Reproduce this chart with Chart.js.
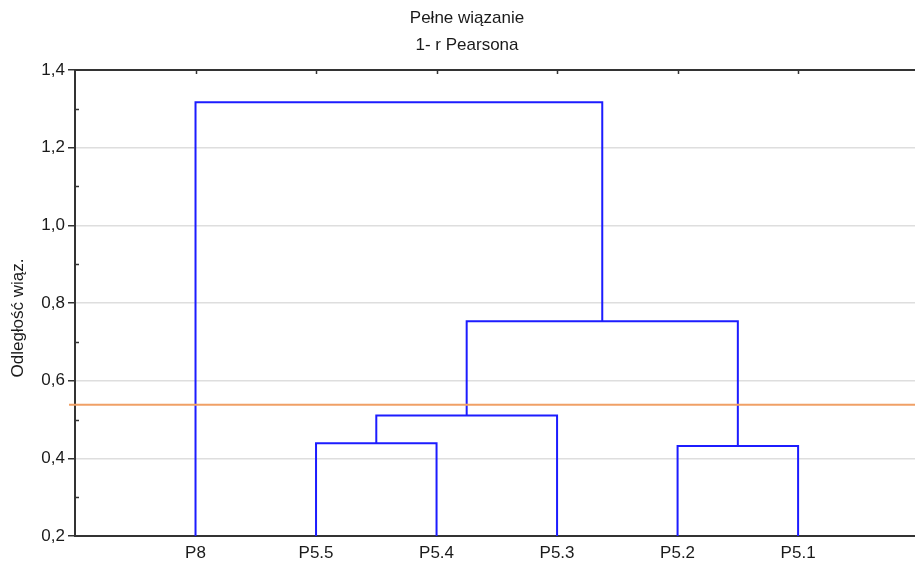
<!DOCTYPE html>
<html>
<head>
<meta charset="utf-8">
<script src="https://cdn.jsdelivr.net/npm/chart.js@4/dist/chart.umd.min.js"></script>
<style>
  html, body { margin: 0; padding: 0; background: #ffffff; }
  canvas { display: block; }
</style>
</head>
<body>
<canvas id="chart" width="915" height="562"></canvas>
<script>
// Leaves of the dendrogram, in drawing order
const leaves = ['P8', 'P5.5', 'P5.4', 'P5.3', 'P5.2', 'P5.1'];

// Agglomeration steps: node ids < leaves.length are leaves, each step creates node leaves.length + k
const mergeLeft   = [1, 4, 6, 8, 0];
const mergeRight  = [2, 5, 3, 7, 9];
const mergeHeight = [0.439, 0.432, 0.510, 0.753, 1.317];

// Cut level of the tree
const cutHeight = 0.538;

// Axis values
const yMajorTicks = [0.2, 0.4, 0.6, 0.8, 1.0, 1.2, 1.4];
const yMinorTicks = [0.3, 0.5, 0.7, 0.9, 1.1, 1.3];

const titleLines = ['Pełne wiązanie', '1- r Pearsona'];
const yAxisTitle = 'Odległość wiąz.';

const Y_MIN = 0.2, Y_MAX = 1.4, X_MAX = 6.97;
const FONT = '"Liberation Sans", Arial, sans-serif';
const FONT_SIZE = 17;
const TEXT_COLOR = '#1a1a1a';
const LINK_COLOR = 'rgb(28, 28, 255)';
const AXIS_COLOR = '#333333';

// Build the U-shaped links of the tree from the merge table
const nodeX = leaves.map((_, i) => i + 1);
const nodeH = leaves.map(() => Y_MIN);
const linkSets = mergeHeight.map((h, k) => {
  const a = mergeLeft[k], b = mergeRight[k];
  const pts = [
    { x: nodeX[a], y: nodeH[a] },
    { x: nodeX[a], y: h },
    { x: nodeX[b], y: h },
    { x: nodeX[b], y: nodeH[b] }
  ];
  nodeX.push((nodeX[a] + nodeX[b]) / 2);
  nodeH.push(h);
  return {
    data: pts,
    showLine: true,
    borderColor: LINK_COLOR,
    borderWidth: 2,
    pointRadius: 0,
    pointHoverRadius: 0,
    fill: false,
    tension: 0,
    borderJoinStyle: 'miter'
  };
});

const decorations = {
  id: 'decorations',
  beforeDatasetsDraw(chart) {
    const { ctx, chartArea, scales } = chart;
    ctx.save();
    ctx.strokeStyle = AXIS_COLOR;
    ctx.lineWidth = 1.5;
    // minor ticks pointing into the plot on the left axis
    yMinorTicks.forEach(v => {
      const y = Math.round(scales.y.getPixelForValue(v)) + 0.5;
      ctx.beginPath();
      ctx.moveTo(chartArea.left, y);
      ctx.lineTo(chartArea.left + 4, y);
      ctx.stroke();
    });
    // ticks hanging from the top frame at each leaf
    leaves.forEach((_, i) => {
      const x = Math.round(scales.x.getPixelForValue(i + 1)) + 0.5;
      ctx.beginPath();
      ctx.moveTo(x, chartArea.top);
      ctx.lineTo(x, chartArea.top + 4);
      ctx.stroke();
    });
    ctx.restore();
  },
  afterDatasetsDraw(chart) {
    const { ctx, chartArea, scales } = chart;
    const y = scales.y.getPixelForValue(cutHeight);
    ctx.save();
    ctx.strokeStyle = '#f0a066';
    ctx.lineWidth = 2;
    ctx.beginPath();
    ctx.moveTo(chartArea.left - 6, y);
    ctx.lineTo(chartArea.right, y);
    ctx.stroke();
    ctx.restore();
  },
  afterDraw(chart) {
    const { ctx } = chart;
    ctx.save();
    ctx.fillStyle = TEXT_COLOR;
    ctx.font = FONT_SIZE + 'px ' + FONT;
    ctx.textAlign = 'center';
    ctx.textBaseline = 'middle';
    ctx.fillText(titleLines[0], 467, 18);
    ctx.fillText(titleLines[1], 467, 45);
    ctx.translate(18, 318);
    ctx.rotate(-Math.PI / 2);
    ctx.fillText(yAxisTitle, 0, 0);
    ctx.restore();
  }
};

new Chart(document.getElementById('chart'), {
  type: 'scatter',
  data: { datasets: linkSets },
  plugins: [decorations],
  options: {
    responsive: false,
    animation: false,
    events: [],
    layout: { padding: { top: 70, right: 0, bottom: 0, left: 0 } },
    plugins: {
      legend: { display: false },
      tooltip: { enabled: false },
      title: { display: false }
    },
    scales: {
      x: {
        type: 'linear',
        position: 'bottom',
        min: 0,
        max: X_MAX,
        grid: { display: false, drawTicks: false },
        border: { display: true, color: AXIS_COLOR, width: 2 },
        afterBuildTicks: s => { s.ticks = leaves.map((_, i) => ({ value: i + 1 })); },
        afterFit: s => { s.height = 26; },
        ticks: {
          autoSkip: false,
          maxRotation: 0,
          padding: 7,
          color: TEXT_COLOR,
          font: { size: FONT_SIZE, family: FONT },
          callback: v => leaves[v - 1] ?? ''
        }
      },
      xTop: {
        type: 'linear',
        axis: 'x',
        position: 'top',
        min: 0,
        max: X_MAX,
        grid: { display: false, drawTicks: false },
        border: { display: true, color: AXIS_COLOR, width: 2 },
        ticks: { display: false },
        afterFit: s => { s.height = 0; }
      },
      y: {
        type: 'linear',
        min: Y_MIN,
        max: Y_MAX,
        afterBuildTicks: s => { s.ticks = yMajorTicks.map(v => ({ value: v })); },
        afterFit: s => { s.width = 75; },
        grid: {
          color: '#dedede',
          lineWidth: 1.5,
          tickColor: AXIS_COLOR,
          tickLength: 7,
          tickWidth: 1.5
        },
        border: { display: true, color: AXIS_COLOR, width: 2 },
        ticks: {
          padding: 3,
          color: TEXT_COLOR,
          font: { size: FONT_SIZE, family: FONT },
          callback: v => v.toFixed(1).replace('.', ',')
        }
      }
    }
  }
});
</script>
</body>
</html>
